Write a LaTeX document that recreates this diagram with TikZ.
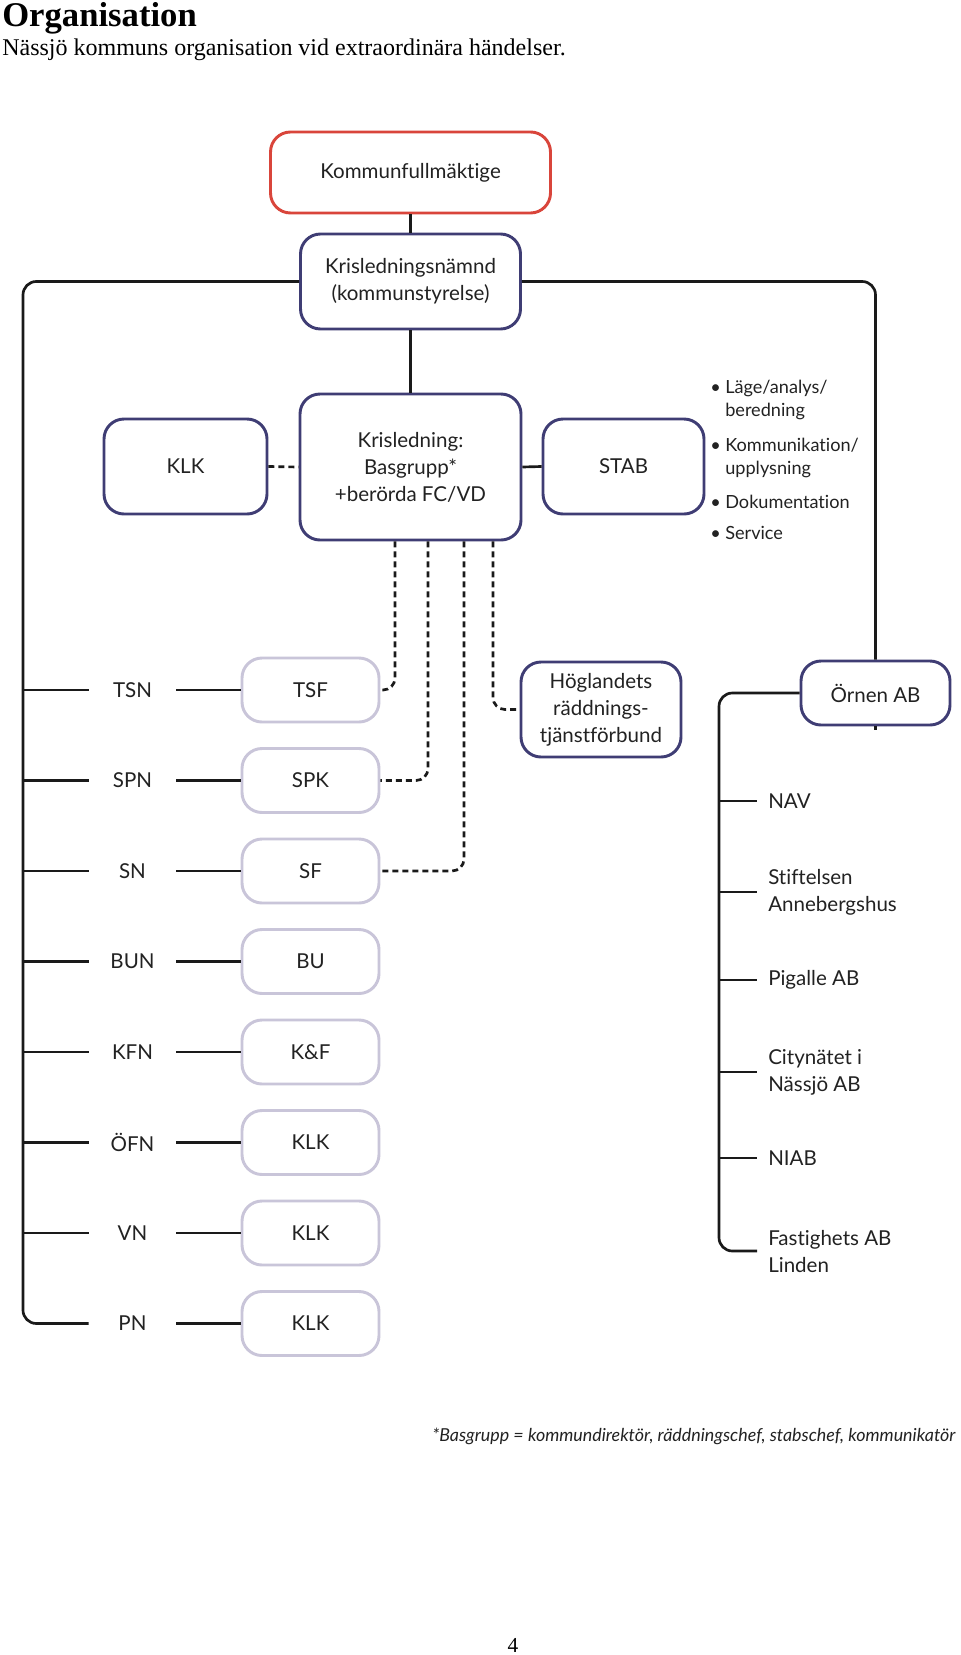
\documentclass[tikz,border=0pt]{standalone}
\usepackage{fontspec}
\setmainfont{Lato}[Ligatures={NoCommon,NoContextual}]
\newfontfamily\serif{Liberation Serif}
\definecolor{redc}{HTML}{D9453B}
\definecolor{navy}{HTML}{3F3D74}
\definecolor{lightc}{HTML}{C9C5D9}
\definecolor{linec}{HTML}{1A1A1A}
\definecolor{txt}{HTML}{222222}
\begin{document}
\begin{tikzpicture}[x=0.75pt,y=-0.75pt,
  conn/.style={line width=2pt, draw=linec},
  dconn/.style={conn, dash pattern=on 4.5pt off 3pt},
  mainfont/.style={font=\fontsize{15.4}{20.25}\selectfont, text=txt},
  box/.style={draw, rounded corners=15pt, line width=2.2pt, align=center, mainfont, inner sep=0pt},
  redbox/.style={box, draw=redc},
  navybox/.style={box, draw=navy},
  lightbox/.style={box, draw=lightc, minimum width=102.75pt, minimum height=48pt},
  lab/.style={mainfont, inner sep=0pt, minimum width=65.25pt},
  ritem/.style={mainfont, anchor=west, inner sep=0pt, inner xsep=8.25pt, align=left},
  bul/.style={font=\fontsize{13.6}{17.25}\selectfont, text=txt, inner sep=0pt, anchor=base west},
]
\useasboundingbox (0,0) rectangle (960,1655);
\fill[white] (0,0) rectangle (960,1655);

% titles
\node[anchor=base west, inner sep=0pt, font=\serif\bfseries\fontsize{26}{30}\selectfont] (title) at (2,27) {Organisation};
\node[anchor=base west, inner sep=0pt, font=\serif\fontsize{18}{22}\selectfont] (sub) at (2,56) {Nässjö kommuns organisation vid extraordinära händelser.};

% top boxes
\node[redbox, minimum width=210pt, minimum height=60.75pt] (kf) at (410.5,172.5) {Kommunfullmäktige};
\node[navybox, minimum width=165pt, minimum height=71.25pt] (ksn) at (410.5,281.5) {Krisledningsnämnd\\(kommunstyrelse)};
\node[navybox, minimum width=165.75pt, minimum height=109.5pt] (kl) at (410.5,467) {Krisledning:\\Basgrupp*\\+berörda FC/VD};
\node[navybox, minimum width=122.25pt, minimum height=71.25pt] (klk) at (185.5,466.5) {KLK};
\node[navybox, minimum width=120.75pt, minimum height=71.25pt] (stab) at (623.5,466.5) {STAB};
\node[navybox, minimum width=120pt, minimum height=71.25pt] (hog) at (601,709.5) {Höglandets\\räddnings-\\tjänstförbund};
\node[navybox, minimum width=111.75pt, minimum height=48pt] (orn) at (875.5,693) {Örnen AB};

% bullet list
\node[bul] (b1) at (710,393) {•};
\node[bul] (t1) at (725,393) {Läge/analys/};
\node[bul] (t1b) at (725,416) {beredning};
\node[bul] (b2) at (710,451) {•};
\node[bul] (t2) at (725,451) {Kommunikation/};
\node[bul] (t2b) at (725,474) {upplysning};
\node[bul] (b3) at (710,508) {•};
\node[bul] (t3) at (725,508) {Dokumentation};
\node[bul] (b4) at (710,539) {•};
\node[bul] (t4) at (725,539) {Service};

% left rows
\foreach \i/\y/\l/\b in {1/690/TSN/TSF, 2/780.5/SPN/SPK, 3/871/SN/SF, 4/961.5/BUN/BU, 5/1052/KFN/K\&F, 6/1142.5/ÖFN/KLK, 7/1233/VN/KLK, 8/1323.5/PN/KLK}{
  \node[lab] (L\i) at (132.5,\y) {\l};
  \node[lightbox] (B\i) at (310.5,\y) {\b};
  \coordinate (S\i) at (23,\y);
  \draw[conn] (L\i.east) -- (B\i.west);
}
\foreach \i in {1,...,7}{ \draw[conn] (S\i) -- (L\i.west); }

% right items
\node[ritem] (r1) at (757,801) {NAV};
\node[ritem] (r2) at (757,892) {Stiftelsen\\Annebergshus};
\node[ritem] (r3) at (757,980) {Pigalle AB};
\node[ritem] (r4) at (757,1072) {Citynätet i\\Nässjö AB};
\node[ritem] (r5) at (757,1158) {NIAB};
\node[ritem] (r6) at (757,1251) {Fastighets AB\\Linden};
\coordinate (rs) at (719,1251);
\foreach \i in {1,...,5}{ \draw[conn] (r\i.west -| rs) -- (r\i.west); }

% main connectors
\draw[conn] (kf.south) -- (ksn.north);
\draw[conn] (ksn.south) -- (kl.north);
\draw[conn, rounded corners=10pt] (ksn.west) -| (S8) -- (L8.west);
\draw[conn, rounded corners=10pt] (ksn.east) -| (orn.north);
\draw[conn] (orn.south) -- ++(0,4);
\draw[conn, rounded corners=10pt] (orn.west) -| (rs) -- (r6.west);
\draw[dconn] (klk.east) -- (kl.west);
\draw[conn] (kl.east) -- (stab.west);

% dashed connectors
\coordinate (dx1) at (395,0);
\coordinate (dx2) at (428,0);
\coordinate (dx3) at (464,0);
\coordinate (dx4) at (493,0);
\draw[dconn, rounded corners=9pt] (kl.south -| dx1) |- (B1.east);
\draw[dconn, rounded corners=9pt] (kl.south -| dx2) |- (B2.east);
\draw[dconn, rounded corners=9pt] (kl.south -| dx3) |- (B3.east);
\draw[dconn, rounded corners=9pt] (kl.south -| dx4) |- (hog.west);

% footnote and page number
\node[anchor=base west, inner sep=0pt, text=txt, font=\itshape\fontsize{13.4}{16}\selectfont] (fn) at (432,1441) {*Basgrupp = kommundirektör, räddningschef, stabschef, kommunikatör};
\node[anchor=base, inner sep=0pt, font=\serif\fontsize{16}{18}\selectfont] (pg) at (513,1652) {4};
\end{tikzpicture}
\end{document}
